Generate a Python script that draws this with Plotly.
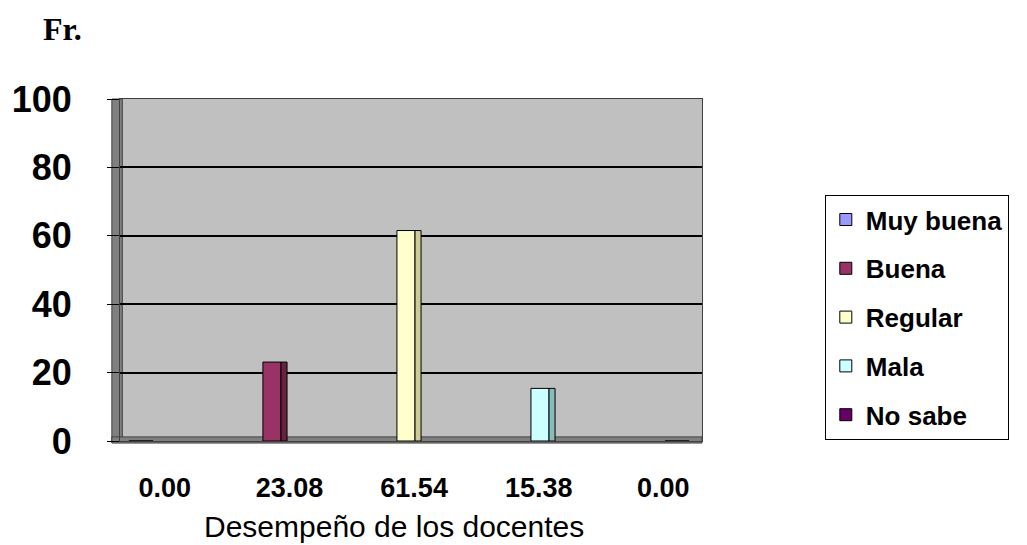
import plotly.graph_objects as go

categories = ["Muy buena", "Buena", "Regular", "Mala", "No sabe"]
values = [0.00, 23.08, 61.54, 15.38, 0.00]
value_labels = ["0.00", "23.08", "61.54", "15.38", "0.00"]
colors = ["#9999FF", "#993366", "#FFFFCC", "#CCFFFF", "#660066"]
side_colors = ["#6666AA", "#66223F", "#CCCC99", "#88BBBB", "#440044"]
y_ticks = [0, 20, 40, 60, 80, 100]

fig = go.Figure()
for i, (name, v) in enumerate(zip(categories, values)):
    fig.add_trace(go.Bar(
        x=[name], y=[v], name=name, width=0.135,
        marker=dict(color=colors[i], line=dict(color="black", width=1)),
        legendgroup=name, showlegend=True, hoverinfo="skip"))
    fig.add_trace(go.Bar(
        x=[name], y=[v], name=name, width=0.045, offset=0.0675,
        marker=dict(color=side_colors[i], line=dict(color="black", width=1)),
        legendgroup=name, showlegend=False, hoverinfo="skip"))

# invisible helper trace carrying the value labels axis
fig.add_trace(go.Scatter(x=list(range(len(value_labels))), y=[0] * len(value_labels),
                         xaxis="x2", mode="markers", marker=dict(opacity=0),
                         showlegend=False, hoverinfo="skip"))

fig.update_layout(
    width=1019, height=537,
    margin=dict(l=112, r=325, t=91, b=104),
    paper_bgcolor="white", plot_bgcolor="#C0C0C0",
    barmode="overlay",
    font=dict(family="Liberation Sans, Arial, sans-serif", color="black"),
    xaxis=dict(type="category", categoryorder="array", categoryarray=categories,
               range=[-0.134, 4.209], showticklabels=False, ticks="",
               showgrid=False, showline=True, linecolor="#404040", linewidth=1,
               mirror=True, zeroline=False, automargin=False),
    xaxis2=dict(overlaying="x", anchor="y", side="bottom", range=[-0.36, 4.31],
                tickmode="array", tickvals=list(range(len(value_labels))),
                ticktext=value_labels, ticks="", showgrid=False, showline=False,
                zeroline=False, ticklabelstandoff=28, automargin=False,
                tickfont=dict(family="Liberation Sans, Arial, sans-serif",
                              size=27, color="black", weight="bold")),
    yaxis=dict(range=[0, 100], tickmode="array", tickvals=y_ticks,
               ticks="outside", ticklen=12, tickcolor="black", tickwidth=1,
               ticklabelstandoff=28, automargin=False,
               tickfont=dict(size=36, color="black", weight="bold"),
               showgrid=True, gridcolor="black", gridwidth=1.5,
               showline=True, linecolor="#404040", mirror=True, zeroline=False),
    legend=dict(x=1.211, y=0.719, xanchor="left", yanchor="top",
                bgcolor="white", bordercolor="black", borderwidth=1,
                font=dict(size=26, color="black", weight="bold"),
                traceorder="grouped", tracegroupgap=12, itemwidth=30,
                entrywidth=185),
    shapes=[
        dict(type="rect", xref="paper", yref="paper", x0=-0.014, x1=0.004,
             y0=0, y1=1, fillcolor="#808080", line=dict(color="#404040", width=1),
             layer="below"),
        dict(type="rect", xref="paper", yref="paper", x0=-0.014, x1=1,
             y0=-0.006, y1=0.012, fillcolor="#808080", line=dict(color="#404040", width=1),
             layer="below"),
    ],
    annotations=[
        dict(text="Fr.", xref="paper", yref="paper", x=-0.135, y=1.205,
             xanchor="left", yanchor="middle", showarrow=False,
             font=dict(family="Liberation Serif, Times New Roman, serif", size=32,
                       color="black", weight="bold")),
        dict(text="Desempeño de los docentes", xref="paper", yref="paper",
             x=0.4716, y=-0.25, xanchor="center", yanchor="middle", showarrow=False,
             font=dict(family="Liberation Sans, Arial, sans-serif", size=30, color="black")),
    ],
)

fig.write_html("out.html")
